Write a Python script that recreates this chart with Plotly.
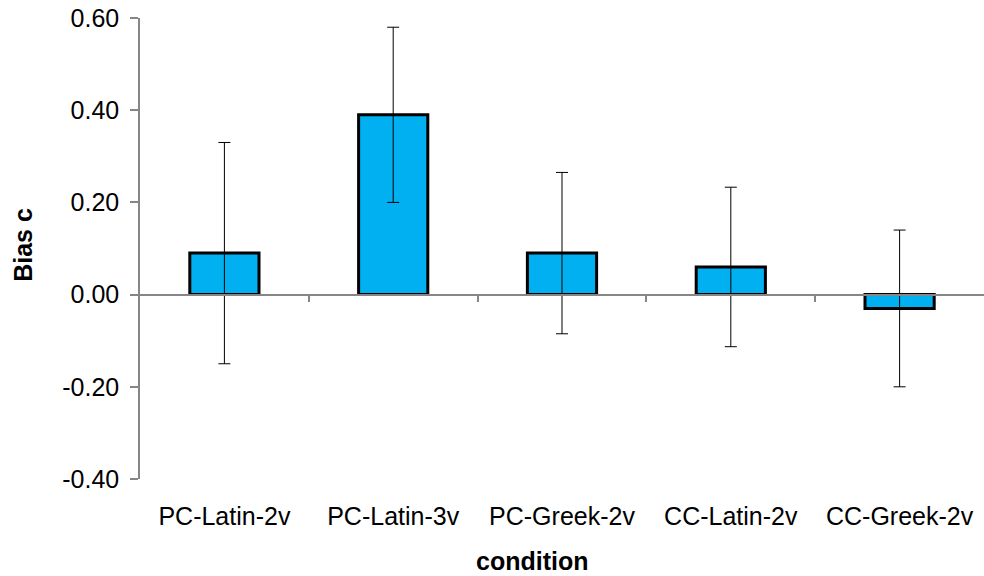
import plotly.graph_objects as go

# Response bias (criterion c) per condition, with error bar half-widths
categories = ["PC-Latin-2v", "PC-Latin-3v", "PC-Greek-2v", "CC-Latin-2v", "CC-Greek-2v"]
bias_c = [0.09, 0.39, 0.09, 0.06, -0.03]
bias_err = [0.24, 0.19, 0.175, 0.173, 0.17]
y_ticks = [-0.40, -0.20, 0.00, 0.20, 0.40, 0.60]

FONT = "Liberation Sans, Arial, sans-serif"
AXIS_GREY = "#868686"

fig = go.Figure()
fig.add_trace(go.Bar(
    x=list(range(len(categories))),
    y=bias_c,
    width=0.41,
    marker=dict(color="#00B0F0", line=dict(color="black", width=3)),
    error_y=dict(type="data", array=bias_err, visible=True,
                 color="black", thickness=1, width=6),
    showlegend=False,
))
# invisible helper so the zero-line axis (x2) is rendered
fig.add_trace(go.Scatter(x=[0], y=[0], xaxis="x2", mode="markers",
                         marker=dict(opacity=0), showlegend=False,
                         hoverinfo="skip"))

fig.update_layout(
    width=984, height=576,
    margin=dict(l=140, r=0, t=18, b=97),
    paper_bgcolor="white", plot_bgcolor="white",
    font=dict(family=FONT, size=25, color="black"),
    xaxis=dict(
        range=[-0.5, 4.5],
        tickmode="array",
        tickvals=list(range(len(categories))),
        ticktext=categories,
        showline=False, showgrid=False, zeroline=False,
        ticks="", ticklabelstandoff=20,
    ),
    xaxis2=dict(
        overlaying="x", matches="x", anchor="free", position=0.4,
        range=[-0.5, 4.5],
        tickmode="array",
        tickvals=[0.5, 1.5, 2.5, 3.5],
        showticklabels=False,
        showline=True, linecolor=AXIS_GREY, linewidth=1.5,
        ticks="outside", ticklen=7, tickcolor=AXIS_GREY, tickwidth=1.5,
        showgrid=False, zeroline=False,
    ),
    yaxis=dict(
        range=[-0.4, 0.6],
        tickmode="array",
        tickvals=y_ticks,
        ticktext=[f"{v:.2f}" for v in y_ticks],
        showline=True, linecolor=AXIS_GREY, linewidth=1.5,
        ticks="outside", ticklen=8, tickcolor=AXIS_GREY, tickwidth=1.5,
        showgrid=False, zeroline=False,
        ticklabelstandoff=6,
    ),
    annotations=[
        dict(text="<b>Bias c</b>", textangle=-90, xref="paper", yref="paper",
             x=-117 / 844, y=0.508, xanchor="center", yanchor="middle",
             showarrow=False, font=dict(size=25)),
        dict(text="<b>condition</b>", xref="paper", yref="paper",
             x=0.4645, y=-0.178, xanchor="center", yanchor="middle",
             showarrow=False, font=dict(size=25)),
    ],
)

fig.write_html("out.html")
